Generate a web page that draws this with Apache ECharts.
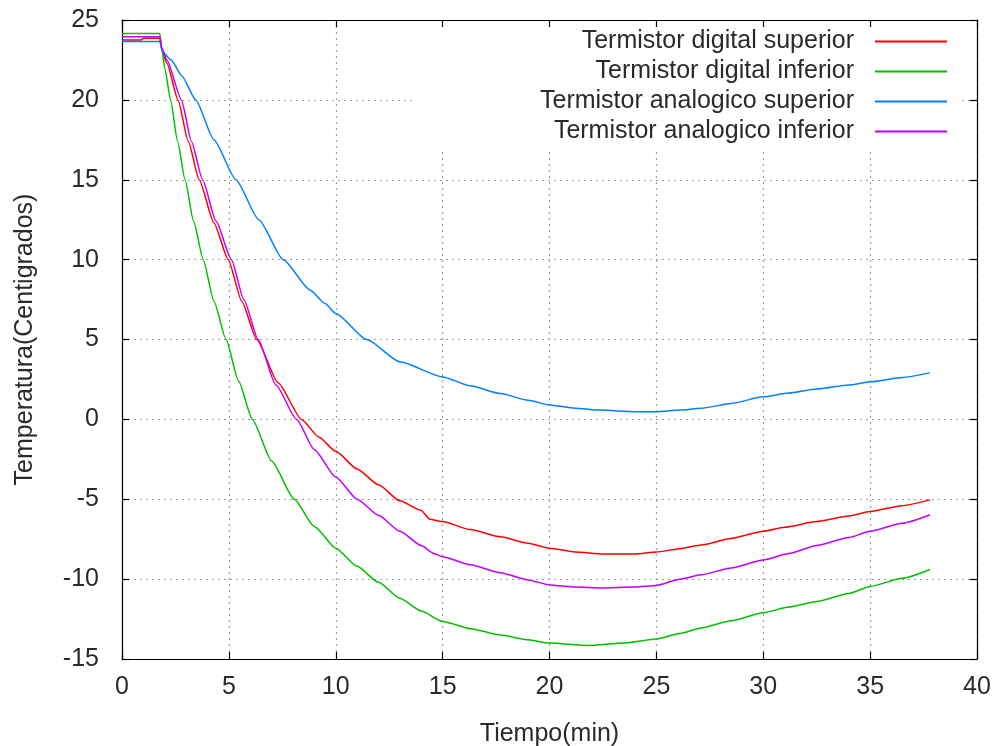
<!DOCTYPE html>
<html>
<head>
<meta charset="utf-8">
<script src="https://cdn.jsdelivr.net/npm/echarts@6/dist/echarts.min.js"></script>
<style>
html,body{margin:0;padding:0;background:#fff;}
#chart{width:992px;height:746px;}
</style>
</head>
<body>
<div id="chart"></div>
<script>
var seriesNames = ['Termistor digital superior','Termistor digital inferior','Termistor analogico superior','Termistor analogico inferior'];
var xTicks = [0,5,10,15,20,25,30,35,40];
var yTicks = [-15,-10,-5,0,5,10,15,20,25];

var tDigSup = [0,0.9,1.0,1.77,1.85,2.1,2.62,3.1,3.61,4.3,4.97,5.6,6.3,7.3,8.4,9.2,10,11,12,13,14.0,14.4,15,16.3,17.7,19,20,21.2,22.5,24,25,26.1,27.1,28.5,30,31,32.5,34,35,36.5,37.8];
var vDigSup = [23.75,23.75,23.85,23.85,23.2,22.3,20,17.4,15,12.3,10,7.4,5,2.3,0,-1.1,-2.0,-3.1,-4.1,-5.1,-5.7,-6.25,-6.4,-6.9,-7.35,-7.75,-8.06,-8.3,-8.42,-8.42,-8.3,-8.1,-7.86,-7.45,-7.0,-6.75,-6.4,-6.05,-5.77,-5.4,-5.04];

var tDigInf = [0,1.77,1.85,2.0,2.27,2.6,2.95,3.35,3.8,4.3,4.87,5.45,6.1,7.0,8.06,9.0,10,11,12,13,14,15,16.3,17.7,19,20,21.8,23.5,25,26.1,27.1,28.5,30,31.2,32.5,34,35,36.5,37.8];
var vDigInf = [24.15,24.15,23.3,22.0,20,17.4,15,12.4,10,7.4,5,2.4,0,-2.6,-5,-6.7,-8.06,-9.2,-10.2,-11.2,-12.0,-12.65,-13.1,-13.5,-13.8,-14.0,-14.15,-14.0,-13.75,-13.4,-13.06,-12.6,-12.1,-11.75,-11.4,-10.9,-10.46,-9.95,-9.4];

var tAnaSup = [0,1.77,1.9,2.3,2.8,3.45,4.3,5.33,6.4,7.54,8.8,9.5,10,11.45,13,15,16.3,17.7,19,20,21.2,22.4,24,25,26.1,27.1,28.5,30,31.2,32.5,34,35,36.5,37.8];
var vAnaSup = [23.65,23.65,23.0,22.5,21.5,20,17.5,15,12.5,10,8.1,7.25,6.63,5.0,3.6,2.66,2.1,1.62,1.2,0.9,0.7,0.58,0.48,0.48,0.58,0.69,1.0,1.41,1.65,1.9,2.15,2.35,2.62,2.91];

var tAnaInf = [0,1.77,1.85,2.1,2.78,3.25,3.77,4.4,5.12,5.7,6.37,7.2,8.17,9.0,10,11,12,13,14.0,14.6,15,16.3,17.7,19,20,21.2,22.4,24,25,26.1,27.1,28.5,30,31.2,32.5,34,35,36.5,37.8];
var vAnaInf = [23.95,23.95,23.3,22.5,20,17.4,15,12.4,10,7.5,5,2.15,0,-1.9,-3.6,-5.0,-6.0,-7.0,-7.9,-8.4,-8.6,-9.1,-9.6,-10.05,-10.36,-10.5,-10.56,-10.5,-10.4,-10.0,-9.73,-9.3,-8.8,-8.4,-7.9,-7.4,-7.0,-6.5,-5.97];

var colors = ['#ff0000','#00c000','#0080ff','#c000ff'];

function pairs(t, v){ var out=[]; for(var i=0;i<t.length;i++){ out.push([t[i], v[i]]); } return out; }
var allT = [tDigSup,tDigInf,tAnaSup,tAnaInf];
var allV = [vDigSup,vDigInf,vAnaSup,vAnaInf];

var FONT = 'Liberation Sans';
var TXT = '#2a2a2a';
var FS = 25;

var chart = echarts.init(document.getElementById('chart'), null, {renderer:'canvas'});

var series = [];
for (var k=0;k<4;k++){
  series.push({
    name: seriesNames[k], type:'line', data: pairs(allT[k], allV[k]),
    symbol:'none', smooth:0.2, smoothMonotone:'x', z:2,
    lineStyle:{color:colors[k], width:1.5}, itemStyle:{color:colors[k]},
    xAxisIndex:0, yAxisIndex:0, animation:false
  });
}

var legends = [];
for (var k=0;k<4;k++){
  legends.push({
    data:[{name:seriesNames[k], icon:'rect'}], orient:'horizontal', align:'right',
    right:45, top: 29 + 30*k,
    itemWidth:72, itemHeight:2, itemGap:0, padding:0,
    textStyle:{fontFamily:FONT, fontSize:FS, color:TXT, padding:[0,16,0,0]},
    selectedMode:false
  });
}

var splitStyle = {show:true, lineStyle:{color:'#a0a0a0', width:1.2, type:[2,4]}};
var lineStyleAx = {show:true, onZero:false, lineStyle:{color:'#000', width:1.2}};
var tickIn = {show:true, inside:true, length:7, lineStyle:{color:'#000', width:1.2}};

var option = {
  backgroundColor:'#fff',
  animation:false,
  color: colors,
  grid:{left:122, right:15, top:20, bottom:87, containLabel:false, outerBoundsMode:'none'},
  legend: legends,
  graphic:[{type:'rect', z:1, silent:true, shape:{x:413, y:22, width:547, height:126}, style:{fill:'#fff'}}],
  xAxis:[
    {type:'value', min:0, max:40, interval:5, position:'bottom',
     axisLine:lineStyleAx, axisTick:tickIn, splitLine:splitStyle,
     axisLabel:{fontFamily:FONT, fontSize:FS, color:TXT, margin:16},
     name:'Tiempo(min)', nameLocation:'middle', nameGap:63,
     nameTextStyle:{fontFamily:FONT, fontSize:FS, color:TXT}},
    {type:'value', min:0, max:40, interval:5, position:'top', z:3,
     axisLine:lineStyleAx, axisTick:tickIn, splitLine:{show:false}, axisLabel:{show:false}}
  ],
  yAxis:[
    {type:'value', min:-15, max:25, interval:5, position:'left',
     axisLine:lineStyleAx, axisTick:tickIn, splitLine:splitStyle,
     axisLabel:{fontFamily:FONT, fontSize:FS, color:TXT, margin:23},
     name:'Temperatura(Centigrados)', nameLocation:'middle', nameGap:84, nameRotate:90,
     nameTextStyle:{fontFamily:FONT, fontSize:FS, color:TXT}},
    {type:'value', min:-15, max:25, interval:5, position:'right', z:3,
     axisLine:lineStyleAx, axisTick:tickIn, splitLine:{show:false}, axisLabel:{show:false}}
  ],
  series: series
};
chart.setOption(option);
</script>
</body>
</html>
